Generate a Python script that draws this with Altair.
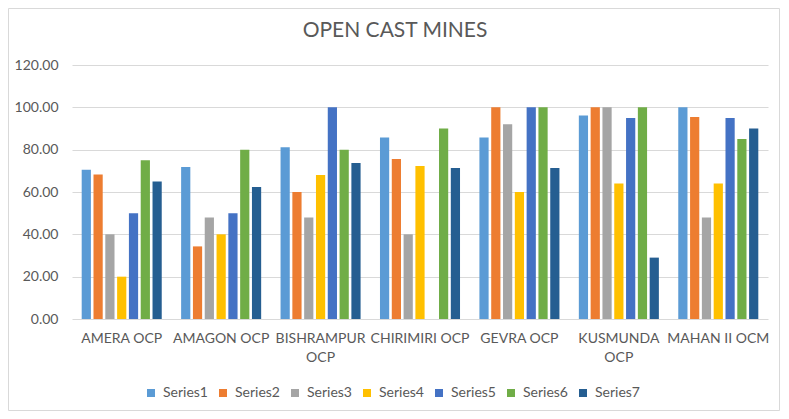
import altair as alt
import pandas as pd

chart_title = "OPEN CAST MINES"
mines = ["AMERA OCP", "AMAGON OCP", "BISHRAMPUR OCP", "CHIRIMIRI OCP",
         "GEVRA OCP", "KUSMUNDA OCP", "MAHAN II OCM"]
series_names = ["Series1", "Series2", "Series3", "Series4", "Series5", "Series6", "Series7"]

s1 = [70.5, 71.8, 81.1, 85.8, 85.7, 96.2, 100.0]
s2 = [68.3, 34.3, 60.0, 75.6, 100.0, 100.0, 95.4]
s3 = [40.0, 48.0, 48.0, 40.0, 92.0, 100.0, 48.0]
s4 = [20.0, 40.0, 68.0, 72.3, 60.0, 64.0, 64.0]
s5 = [50.0, 50.0, 100.0, 0.0, 100.0, 95.0, 95.0]
s6 = [75.0, 80.0, 80.0, 90.0, 100.0, 100.0, 85.0]
s7 = [65.0, 62.4, 73.7, 71.3, 71.3, 29.0, 90.0]

y_ticks = [0, 20, 40, 60, 80, 100, 120]
colors = ["#5B9BD5", "#ED7D31", "#A5A5A5", "#FFC000", "#4472C4", "#70AD47", "#255E91"]

rows = []
for name, vals in zip(series_names, [s1, s2, s3, s4, s5, s6, s7]):
    for m, v in zip(mines, vals):
        rows.append({"mine": m, "series": name, "value": v})
df = pd.DataFrame(rows)

FONT = "Lato"
GRAY = "#595959"

label_expr = ("datum.label == 'BISHRAMPUR OCP' || datum.label == 'KUSMUNDA OCP' "
              "? split(datum.label, ' ') : datum.label")

bars = alt.Chart(df).mark_bar().encode(
    x=alt.X("mine:N", sort=mines,
            scale=alt.Scale(paddingInner=0.195, paddingOuter=0.0975),
            axis=alt.Axis(title=None, labelAngle=0, labelExpr=label_expr,
                          labelPadding=12, labelFontSize=14, labelColor=GRAY,
                          labelFont=FONT, ticks=False, domain=False,
                          labelLineHeight=19, labelLimit=150)),
    xOffset=alt.XOffset("series:N", sort=series_names,
                        scale=alt.Scale(paddingInner=0.22, paddingOuter=0)),
    y=alt.Y("value:Q", scale=alt.Scale(domain=[0, 120]),
            axis=alt.Axis(title=None, values=y_ticks, format=".2f",
                          labelFontSize=14, labelColor=GRAY, labelFont=FONT,
                          labelPadding=14, ticks=False, domain=False,
                          gridColor="#D9D9D9", gridWidth=1)),
    color=alt.Color("series:N",
                    scale=alt.Scale(domain=series_names, range=colors),
                    legend=alt.Legend(title=None, orient="none", legendX=72, legendY=321,
                                      direction="horizontal", columns=7,
                                      symbolType="square", symbolSize=64,
                                      symbolStrokeWidth=0, labelFontSize=14,
                                      labelColor=GRAY, labelFont=FONT,
                                      labelOffset=5, columnPadding=8)),
)

frame = alt.Chart(pd.DataFrame({"a": [0]})).mark_rect(
    fillOpacity=0, stroke="#D9D9D9", strokeWidth=1
).encode(
    x=alt.value(-63.5), x2=alt.value(707.5),
    y=alt.value(-56.5), y2=alt.value(345.5),
)

title_text = alt.Chart(pd.DataFrame({"t": [chart_title]})).mark_text(
    font=FONT, fontSize=21, color=GRAY, align="center", baseline="middle"
).encode(
    text="t:N", x=alt.value(323), y=alt.value(-34),
)

chart = alt.layer(frame, bars, title_text).properties(
    width=696, height=254,
    padding={"left": 64, "top": 57, "right": 13, "bottom": 92},
    autosize=alt.AutoSizeParams(type="none"),
).configure_view(stroke=None)

chart.save("out.html", embed_options={"renderer": "svg", "actions": False})
